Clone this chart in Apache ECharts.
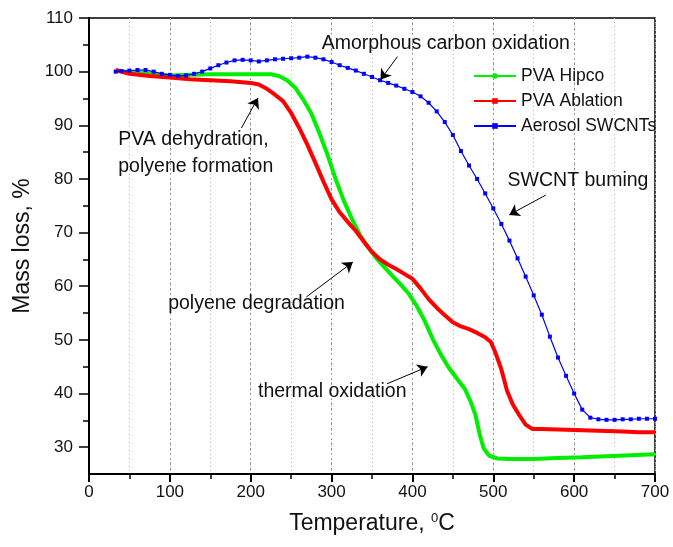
<!DOCTYPE html>
<html>
<head>
<meta charset="utf-8">
<script src="https://cdn.jsdelivr.net/npm/echarts@6/dist/echarts.min.js"></script>
<style>
  html, body { margin: 0; padding: 0; background: #fff; }
  #chart { width: 673px; height: 547px; }
</style>
</head>
<body>
<div id="chart"></div>
<script>
// PVA Hipco (green)
const hipcoT = [33, 50, 75, 100, 125, 150, 175, 200, 225, 235, 245, 255, 265, 275, 285, 295, 305, 315, 325, 335, 345, 355, 365, 375, 385, 395, 405, 415, 425, 435, 445, 455, 465, 472, 478, 483, 488, 495, 505, 520, 550, 580, 610, 640, 670, 700];
const hipcoM = [100.2, 99.9, 99.6, 99.3, 99.4, 99.5, 99.5, 99.5, 99.5, 99.2, 98.4, 97, 94.8, 92.2, 88.5, 84.5, 80, 76, 72.6, 69.6, 67.3, 65.3, 63.6, 62, 60.4, 58.7, 56.4, 53.6, 50.2, 47.3, 44.8, 42.8, 40.8, 38.5, 36, 32.5, 29.8, 28.4, 27.9, 27.8, 27.8, 28, 28.1, 28.3, 28.5, 28.7];

// PVA Ablation (red)
const ablT = [33, 50, 75, 100, 125, 150, 175, 200, 210, 220, 230, 240, 250, 260, 270, 280, 290, 300, 310, 320, 330, 340, 350, 360, 370, 380, 390, 400, 410, 420, 430, 440, 450, 460, 470, 480, 490, 497, 503, 510, 517, 524, 532, 540, 548, 560, 580, 600, 620, 640, 660, 680, 700];
const ablM = [100.3, 99.6, 99.2, 98.9, 98.6, 98.4, 98.2, 97.9, 97.6, 96.8, 95.7, 94.5, 92.3, 89.5, 86.4, 83, 79.5, 76.2, 73.8, 72, 70.3, 68.3, 66.4, 65, 64, 63.2, 62.3, 61.4, 59.6, 57.6, 56, 54.6, 53.3, 52.5, 52, 51.3, 50.5, 49.6, 47.5, 44.5, 40.5, 38, 36, 34.2, 33.4, 33.4, 33.3, 33.2, 33.1, 33, 32.9, 32.8, 32.8];

// Aerosol SWCNTs (blue)
const aeroT = [33, 40, 50, 60, 70, 80, 90, 100, 110, 120, 130, 140, 150, 160, 170, 180, 190, 200, 210, 220, 230, 240, 250, 260, 270, 280, 290, 300, 310, 320, 330, 340, 350, 360, 370, 380, 390, 400, 410, 420, 430, 440, 450, 460, 470, 480, 490, 500, 510, 520, 530, 540, 550, 560, 570, 580, 590, 600, 610, 620, 630, 640, 650, 660, 670, 680, 690, 700];
const aeroM = [100, 100.1, 100.2, 100.3, 100.3, 100, 99.6, 99.4, 99.2, 99.3, 99.6, 100, 100.6, 101.2, 101.7, 102.1, 102.2, 102.1, 101.9, 102.1, 102.3, 102.4, 102.5, 102.6, 102.8, 102.6, 102.3, 101.8, 101.2, 100.7, 100.2, 99.6, 99, 98.4, 97.9, 97.4, 96.8, 96.2, 95.4, 94.2, 92.6, 90.6, 88.2, 85.2, 82.5, 80, 77.3, 74.5, 71.6, 68.5, 65.2, 61.8, 58.3, 54.7, 50.6, 46.7, 43.3, 40, 37, 35.5, 35.2, 35.1, 35.1, 35.2, 35.2, 35.3, 35.3, 35.3];

const seriesNames = ['PVA Hipco', 'PVA Ablation', 'Aerosol SWCNTs'];

// annotation texts: [label, temperature, mass] (left edge, vertical centre)
const noteTexts = [
    ['Amorphous carbon oxidation', 287.7, 105.2],
    ['PVA dehydration,\npolyene formation', 36.2, 84.8],
    ['polyene degradation', 97.9, 56.8],
    ['thermal oxidation', 209, 40.4],
    ['SWCNT buming', 517.7, 79.7]
];
// arrows: [tailT, tailM, tipT, tipM]
const noteArrows = [
    [381.5, 102.8, 360.5, 98.5],
    [188.5, 89.5, 209, 95.1],
    [268.8, 58, 326.3, 64.5],
    [368.4, 41.8, 418.8, 45],
    [565, 77, 519.8, 73.3]
];

const xLabels = [0, 100, 200, 300, 400, 500, 600, 700];
const yLabels = [30, 40, 50, 60, 70, 80, 90, 100, 110];
const yMinor = [35, 45, 55, 65, 75, 85, 95, 105];

function pairs(xs, ys) {
    return xs.map(function(x, i) { return [x, ys[i]]; });
}

const font = 'Liberation Sans, Arial, sans-serif';

var option = {
    animation: false,
    backgroundColor: '#fff',
    textStyle: { fontFamily: font, color: '#111' },
    grid: {
        left: 89, right: 18, top: 18, bottom: 73,
        show: true, borderColor: '#000', borderWidth: 1.5
    },
    legend: {
        data: seriesNames,
        orient: 'vertical',
        left: 468,
        top: 62,
        itemWidth: 42,
        itemHeight: 7,
        itemGap: 7,
        lineStyle: { width: 2 },
        textStyle: { fontSize: 17.5, lineHeight: 17, color: '#111', fontFamily: font }
    },
    xAxis: [{
        type: 'value', min: 0, max: 700, interval: 100,
        name: 'Temperature, {sup|0}C',
        nameLocation: 'middle', nameGap: 38,
        nameTextStyle: {
            fontSize: 23, color: '#111', fontFamily: font,
            rich: { sup: { fontSize: 13, verticalAlign: 'top', padding: [0, 0, 10, 0], fontFamily: font, color: '#111' } }
        },
        axisLine: { lineStyle: { color: '#000', width: 2 } },
        axisTick: { length: 8, lineStyle: { color: '#000', width: 2 } },
        axisLabel: { fontSize: 17, color: '#111', margin: 10 },
        splitLine: { show: true, lineStyle: { color: '#888', type: [2, 3], width: 1 } }
    }, {
        type: 'value', min: 0, max: 700, interval: 50, position: 'bottom',
        axisLine: { show: false },
        axisTick: { length: 5, lineStyle: { color: '#000', width: 1.5 } },
        axisLabel: { show: false },
        splitLine: { show: true, lineStyle: { color: '#bbb', type: [1, 3], width: 1 } }
    }],
    yAxis: [{
        type: 'value', min: 25, max: 110,
        name: 'Mass loss, %',
        nameLocation: 'middle', nameGap: 55,
        nameTextStyle: { fontSize: 23, color: '#111', fontFamily: font },
        axisLine: { show: true, lineStyle: { color: '#000', width: 2 } },
        axisTick: { show: true, length: 10, customValues: yLabels, lineStyle: { color: '#000', width: 1.5 } },
        axisLabel: { fontSize: 17, color: '#111', margin: 16, customValues: yLabels },
        splitLine: { show: false }
    }, {
        type: 'value', min: 25, max: 110, position: 'left',
        axisLine: { show: false },
        axisTick: { show: true, length: 6, customValues: yMinor, lineStyle: { color: '#000', width: 1.5 } },
        axisLabel: { show: false },
        splitLine: { show: false }
    }],
    series: [{
        name: seriesNames[0],
        type: 'line',
        data: pairs(hipcoT, hipcoM),
        symbol: 'circle',
        showSymbol: false,
        color: '#00ee00',
        lineStyle: { width: 4, color: '#00ee00' }
    }, {
        name: seriesNames[1],
        type: 'line',
        data: pairs(ablT, ablM),
        symbol: 'rect',
        showSymbol: false,
        color: '#ff0000',
        lineStyle: { width: 4, color: '#ff0000' }
    }, {
        name: seriesNames[2],
        type: 'line',
        data: pairs(aeroT, aeroM),
        symbol: 'rect',
        symbolSize: 4,
        showSymbol: true,
        color: '#0000ff',
        itemStyle: { color: '#0000ff' },
        lineStyle: { width: 1.2, color: '#0000ff' }
    }, {
        name: 'notes',
        type: 'line',
        data: [],
        silent: true,
        markLine: {
            silent: true,
            symbol: ['none', 'arrow'],
            symbolSize: 10,
            lineStyle: { color: '#000', width: 1, type: 'solid' },
            label: { show: false },
            data: noteArrows.map(function(a) {
                return [{ coord: [a[0], a[1]] }, { coord: [a[2], a[3]] }];
            })
        },
        markPoint: {
            silent: true,
            symbol: 'circle',
            symbolSize: 0,
            label: {
                show: true,
                position: 'inside',
                align: 'left',
                verticalAlign: 'middle',
                fontSize: 19.5,
                lineHeight: 27,
                color: '#111',
                fontFamily: font,
                formatter: function(p) { return p.name; }
            },
            data: noteTexts.map(function(t) {
                return { name: t[0], coord: [t[1], t[2]] };
            })
        }
    }]
};

var chart = echarts.init(document.getElementById('chart'));
chart.setOption(option);
</script>
</body>
</html>
